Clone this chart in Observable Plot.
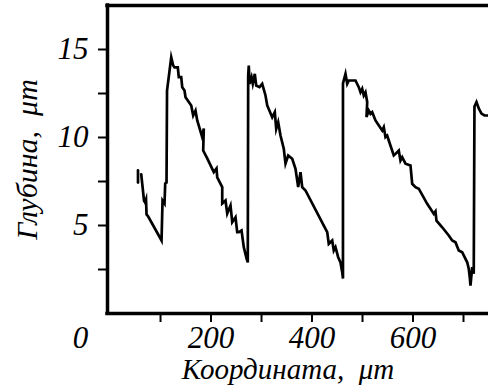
<!DOCTYPE html>
<html><head><meta charset="utf-8">
<script src="https://cdn.jsdelivr.net/npm/d3@7"></script>
<script src="https://cdn.jsdelivr.net/npm/@observablehq/plot@0.6"></script>
<style>
html,body{margin:0;padding:0;background:#fff;}
#chart svg text{font-family:"Liberation Serif",serif !important;font-style:italic !important;}
</style>
</head><body><div id="chart"></div>
<script>
// Depth profile: coordinate (μm) and depth (μm)
const coord = [61.8,67.3,69.3,71.3,72.3,75.6,102.0,104.0,107.9,109.3,111.9,112.9,121.2,125.1,127.7,134.2,136.2,141.0,143.0,147.5,149.5,160.8,164.7,169.3,172.7,182.6,185.7,184.5,192.5,205.5,210.9,212.3,222.2,222.2,228.7,232.1,238.6,242.0,248.5,251.9,255.0,260.4,264.9,270.3,272.8,273.6,274.8,276.2,280.2,282.7,286.7,289.5,296.0,301.4,307.9,311.3,321.2,326.3,329.1,333.0,337.6,344.1,347.5,352.8,360.8,367.3,372.6,377.2,380.6,387.1,426.7,430.1,433.2,440.0,443.1,446.5,451.8,456.4,459.8,461.3,461.3,466.3,469.7,472.8,486.1,492.6,496.0,499.4,502.5,505.9,509.3,507.9,512.4,515.8,519.2,525.7,539.0,542.1,545.5,548.9,552.0,561.9,565.3,571.8,575.2,578.6,585.1,595.0,598.4,604.9,611.4,628.1,634.6,641.1,644.5,646.5,657.8,670.8,677.6,684.1,690.6,697.4,700.5,707.3,710.4,712.4,713.8,717.2,720.3,721.7,725.7,730.2,735.6,741.5,749.4,757.4];
const depth = [7.90,6.42,6.31,6.48,5.63,5.51,4.15,6.42,6.25,7.39,7.44,12.67,14.56,14.09,13.99,13.99,13.43,13.43,12.86,12.67,12.29,11.82,11.25,11.53,10.97,10.02,10.51,9.26,8.81,8.03,8.24,7.74,7.18,6.25,6.42,5.68,6.14,5.19,5.47,4.62,4.62,4.72,3.77,3.13,2.90,13.52,14.09,13.05,13.43,13.05,13.62,12.95,12.86,13.05,12.39,11.82,11.15,11.44,10.49,10.87,10.11,9.36,8.52,8.98,8.79,8.22,7.18,8.03,7.18,6.99,4.81,4.62,3.96,4.15,3.58,3.77,3.20,2.90,2.35,1.99,13.07,13.62,13.05,13.24,13.24,12.86,12.57,12.77,12.39,12.57,12.01,11.16,11.53,11.35,11.44,10.97,10.40,10.59,10.02,10.11,9.83,8.98,9.07,9.26,8.69,8.88,8.51,8.41,7.37,7.18,7.09,6.23,5.95,5.66,5.80,5.28,4.90,4.43,4.15,4.05,3.58,3.48,3.30,2.91,2.54,2.06,1.59,2.63,2.26,11.76,12.01,11.65,11.36,11.25,11.25,11.08];
// short detached stub at the start of the trace
const stubCoord = [55.4, 55.4];
const stubDepth = [8.13, 7.44];

const xTicks = [100, 200, 300, 400, 500, 600, 700];
const xTickLabels = [200, 400, 600];
const yTicks = [2.5, 5, 7.5, 10, 12.5, 15];
const yTickLabels = [5, 10, 15];
const originLabel = ["0"];
const xTitle = ["Координата,  μm"];
const yTitle = ["Глубина,  μm"];
const xDomain = [-5, 749.5];
const yDomain = [0, 17.5];

const font = "Liberation Serif";
const pts = coord.map((c, i) => ({c, d: depth[i]}));
const stub = stubCoord.map((c, i) => ({c, d: stubDepth[i]}));
const txt = {fontFamily: font, fontStyle: "italic", fill: "black"};

const chart = Plot.plot({
  width: 488,
  height: 392,
  marginLeft: 107,
  marginRight: 0,
  marginTop: 5,
  marginBottom: 79,
  x: {domain: xDomain},
  y: {domain: yDomain},
  style: {fontFamily: font, fontStyle: "italic", background: "white", color: "black"},
  marks: [
    Plot.axisX(xTicks, {tickSize: 9, strokeWidth: 2, tickFormat: () => "", label: null}),
    Plot.axisY(yTicks, {tickSize: 9, strokeWidth: 2, tickFormat: () => "", label: null}),
    Plot.text(xTickLabels, {...txt, x: d => d, text: d => String(d), frameAnchor: "bottom", textAnchor: "middle", lineAnchor: "top", dy: 12, fontSize: 31}),
    Plot.text(yTickLabels, {...txt, y: d => d, text: d => String(d), frameAnchor: "left", textAnchor: "end", lineAnchor: "middle", dx: -19, fontSize: 31}),
    Plot.ruleX([xDomain[0]], {stroke: "black", strokeWidth: 3.5, strokeLinecap: "square"}),
    Plot.ruleY([yDomain[0], yDomain[1]], {stroke: "black", strokeWidth: 3.5, strokeLinecap: "square"}),
    Plot.line(pts, {x: "c", y: "d", stroke: "black", strokeWidth: 2.7, strokeLinejoin: "miter", strokeMiterlimit: 6, curve: "linear", clip: true}),
    Plot.line(stub, {x: "c", y: "d", stroke: "black", strokeWidth: 2.7, clip: true}),
    Plot.text(originLabel, {...txt, text: d => d, frameAnchor: "bottom-left", textAnchor: "middle", dx: -27, dy: 12, lineAnchor: "top", fontSize: 31}),
    Plot.text(xTitle, {...txt, text: d => d, frameAnchor: "bottom", textAnchor: "middle", dx: -10, dy: 65, lineAnchor: "bottom", fontSize: 29}),
    Plot.text(yTitle, {...txt, text: d => d, frameAnchor: "left", textAnchor: "middle", rotate: -90, dx: -80, lineAnchor: "middle", fontSize: 30})
  ]
});
document.getElementById("chart").appendChild(chart);
</script>
</body></html>
